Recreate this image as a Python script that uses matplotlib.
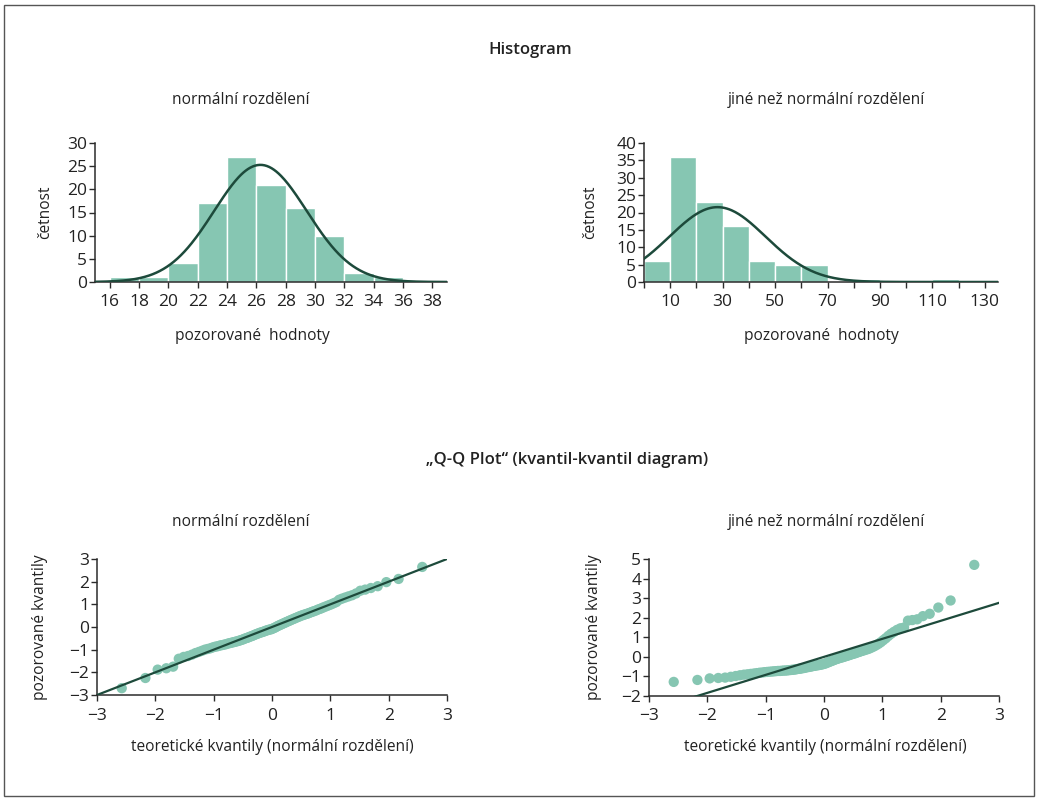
import matplotlib
matplotlib.use("Agg")
import matplotlib.pyplot as plt
from matplotlib.patches import Rectangle
import numpy as np

plt.rcParams['font.family'] = ['Open Sans', 'DejaVu Sans']
plt.rcParams['axes.unicode_minus'] = True

W, H = 1039, 800

# histogram - normalni rozdeleni
hist1_edges = [16, 18, 20, 22, 24, 26, 28, 30, 32, 34, 36]
hist1_counts = [1, 1, 4, 17, 27, 21, 16, 10, 2, 1]

# histogram - jine nez normalni rozdeleni
hist2_edges = [0, 10, 20, 30, 40, 50, 60, 70, 80, 90, 100, 110, 120]
hist2_counts = [6, 36, 23, 16, 6, 5, 5, 0, 1, 0, 0, 1]

# teoreticke kvantily (dolni polovina, n = 100), horni polovina je zrcadlova
theor_low = [-2.576, -2.170, -1.960, -1.812, -1.695, -1.598, -1.514, -1.440, -1.372, -1.311,
             -1.254, -1.200, -1.150, -1.103, -1.058, -1.015, -0.974, -0.935, -0.896, -0.860,
             -0.824, -0.789, -0.755, -0.722, -0.690, -0.659, -0.628, -0.598, -0.568, -0.539,
             -0.510, -0.482, -0.454, -0.426, -0.399, -0.372, -0.345, -0.319, -0.292, -0.266,
             -0.240, -0.215, -0.189, -0.164, -0.138, -0.113, -0.088, -0.063, -0.038, -0.013]
theor = theor_low + [-v for v in reversed(theor_low)]

# pozorovane kvantily - normalni rozdeleni
qq1_obs = [-2.70, -2.25, -1.88, -1.82, -1.75, -1.40, -1.32, -1.28, -1.22, -1.15,
           -1.10, -1.05, -1.00, -0.97, -0.94, -0.90, -0.87, -0.85, -0.82, -0.80,
           -0.78, -0.76, -0.73, -0.71, -0.69, -0.67, -0.65, -0.63, -0.61, -0.58,
           -0.56, -0.53, -0.50, -0.48, -0.45, -0.42, -0.40, -0.37, -0.34, -0.31,
           -0.29, -0.26, -0.24, -0.22, -0.20, -0.17, -0.15, -0.13, -0.11, -0.10,
           -0.07, -0.04, -0.01, 0.03, 0.06, 0.09, 0.12, 0.15, 0.18, 0.21,
           0.24, 0.27, 0.30, 0.33, 0.36, 0.39, 0.42, 0.45, 0.48, 0.51,
           0.53, 0.56, 0.58, 0.61, 0.64, 0.67, 0.70, 0.73, 0.77, 0.80,
           0.84, 0.88, 0.92, 0.96, 1.00, 1.05, 1.10, 1.20, 1.25, 1.30,
           1.35, 1.40, 1.48, 1.60, 1.65, 1.72, 1.80, 1.98, 2.12, 2.65]

# pozorovane kvantily - jine nez normalni rozdeleni
qq2_obs = [-1.28, -1.18, -1.10, -1.08, -1.06, -1.02, -0.98, -0.94, -0.91, -0.89,
           -0.87, -0.85, -0.83, -0.81, -0.80, -0.78, -0.77, -0.76, -0.75, -0.74,
           -0.73, -0.72, -0.72, -0.71, -0.70, -0.70, -0.69, -0.68, -0.67, -0.66,
           -0.65, -0.64, -0.62, -0.61, -0.60, -0.58, -0.57, -0.55, -0.53, -0.52,
           -0.50, -0.49, -0.47, -0.46, -0.44, -0.43, -0.42, -0.40, -0.39, -0.37,
           -0.35, -0.32, -0.29, -0.26, -0.23, -0.20, -0.17, -0.14, -0.11, -0.09,
           -0.06, -0.04, -0.02, 0.01, 0.03, 0.06, 0.08, 0.11, 0.14, 0.16,
           0.19, 0.22, 0.25, 0.28, 0.31, 0.34, 0.37, 0.40, 0.44, 0.49,
           0.54, 0.60, 0.67, 0.75, 0.85, 0.95, 1.07, 1.18, 1.28, 1.38,
           1.46, 1.50, 1.85, 1.88, 1.92, 2.08, 2.20, 2.52, 2.88, 4.70]

# referencni primky (sklon, posun)
qq1_line = (1.0, 0.0)
qq2_line = (0.92, 0.0)

bar_color = '#86c6b2'
line_color = '#1d4a3b'
spine_color = '#2b2b2b'


def px(x, y):
    return x / W, 1 - y / H


def ax_box(left, top, right, bottom):
    return [left / W, 1 - bottom / H, (right - left) / W, (bottom - top) / H]


def style_axes(ax):
    for s in ['top', 'right']:
        ax.spines[s].set_visible(False)
    for s in ['left', 'bottom']:
        ax.spines[s].set_color(spine_color)
        ax.spines[s].set_linewidth(1.1)
    ax.tick_params(axis='both', direction='out', length=4, width=1.0,
                   color=spine_color, labelsize=12.5, labelcolor='#222222', pad=1.5)
    ax.tick_params(axis='x', pad=5)


def draw_hist(ax, edges, counts):
    edges = np.array(edges, dtype=float)
    counts = np.array(counts, dtype=float)
    width = edges[1] - edges[0]
    ax.bar(edges[:-1], counts, width=width, align='edge', color=bar_color,
           edgecolor='white', linewidth=1.0, zorder=2)
    # prolozeni normalnim rozdelenim z tridnich hodnot
    mids = edges[:-1] + width / 2
    n = counts.sum()
    mean = (mids * counts).sum() / n
    sd = np.sqrt(((mids - mean) ** 2 * counts).sum() / n)
    return n, width, mean, sd


fig = plt.figure(figsize=(W / 100, H / 100), dpi=100)
fig.patches.append(Rectangle((4 / W, 4 / H), (W - 9) / W, (H - 9) / H,
                             transform=fig.transFigure, fill=False,
                             edgecolor='#555555', linewidth=1.0))

# --- histogram 1 ---
ax1 = fig.add_axes(ax_box(95, 143, 447, 282))
n, w, m, s = draw_hist(ax1, hist1_edges, hist1_counts)
xs = np.linspace(15, 39, 300)
ax1.plot(xs, n * w / (s * np.sqrt(2 * np.pi)) * np.exp(-(xs - m) ** 2 / (2 * s ** 2)),
         color=line_color, lw=1.8, zorder=3)
ax1.set_xlim(15, 39)
ax1.set_ylim(0, 30)
ax1.set_xticks(range(16, 40, 2))
ax1.set_yticks(range(0, 31, 5))
style_axes(ax1)

# --- histogram 2 ---
ax2 = fig.add_axes(ax_box(644, 143, 998, 282))
n, w, m, s = draw_hist(ax2, hist2_edges, hist2_counts)
xs = np.linspace(0, 135, 300)
ax2.plot(xs, n * w / (s * np.sqrt(2 * np.pi)) * np.exp(-(xs - m) ** 2 / (2 * s ** 2)),
         color=line_color, lw=1.8, zorder=3)
ax2.set_xlim(0, 135)
ax2.set_ylim(0, 40)
ax2.set_xticks(range(0, 140, 10))
ax2.set_xticklabels([str(t) if t % 20 == 10 else '' for t in range(0, 140, 10)])
ax2.set_yticks(range(0, 41, 5))
style_axes(ax2)

# --- Q-Q 1 ---
ax3 = fig.add_axes(ax_box(97, 559, 447, 695))
ax3.scatter(theor, qq1_obs, s=55, color=bar_color, edgecolors='none', zorder=2)
lx = np.array([-3, 3])
ax3.plot(lx, qq1_line[0] * lx + qq1_line[1], color=line_color, lw=1.6, zorder=3)
ax3.set_xlim(-3, 3)
ax3.set_ylim(-3, 3)
ax3.set_xticks(range(-3, 4))
ax3.set_yticks(range(-3, 4))
style_axes(ax3)

# --- Q-Q 2 ---
ax4 = fig.add_axes(ax_box(649, 559, 999, 696))
ax4.scatter(theor, qq2_obs, s=55, color=bar_color, edgecolors='none', zorder=2)
ax4.plot(lx, qq2_line[0] * lx + qq2_line[1], color=line_color, lw=1.6, zorder=3)
ax4.set_xlim(-3, 3)
ax4.set_ylim(-2, 5)
ax4.set_xticks(range(-3, 4))
ax4.set_yticks(range(-2, 6))
style_axes(ax4)

# texty
txt = dict(fontsize=11.2, color='#222222', ha='center', va='center')
ttl = dict(txt, fontsize=12, fontweight='semibold')
fig.text(*px(530, 50), 'Histogram', **ttl)
fig.text(*px(567, 460), '\u201eQ-Q Plot\u201c (kvantil-kvantil diagram)', **ttl)
fig.text(*px(241, 100), 'normální rozdělení', **txt)
fig.text(*px(826, 100), 'jiné než normální rozdělení', **txt)
fig.text(*px(241, 522), 'normální rozdělení', **txt)
fig.text(*px(826, 522), 'jiné než normální rozdělení', **txt)
fig.text(*px(252, 336), 'pozorované  hodnoty', **txt)
fig.text(*px(821, 336), 'pozorované  hodnoty', **txt)
fig.text(*px(272, 747), 'teoretické kvantily (normální rozdělení)', **txt)
fig.text(*px(825, 747), 'teoretické kvantily (normální rozdělení)', **txt)
fig.text(*px(45, 212), 'četnost', rotation=90, **txt)
fig.text(*px(590, 212), 'četnost', rotation=90, **txt)
fig.text(*px(40, 627), 'pozorované kvantily', rotation=90, **txt)
fig.text(*px(594, 627), 'pozorované kvantily', rotation=90, **txt)

fig.savefig('out.png', dpi=100, facecolor='white')
